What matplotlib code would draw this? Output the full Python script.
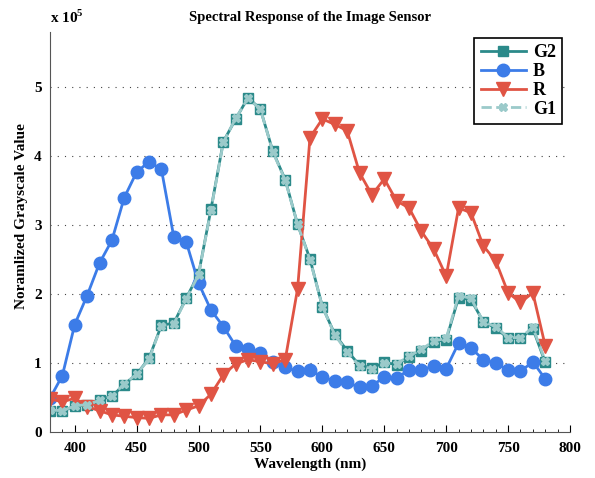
""" spectral response of the image sensor """
import numpy as np
import matplotlib
matplotlib.use("Agg")
import matplotlib.pyplot as plt
from matplotlib.ticker import MultipleLocator

wavelength = list(range(380, 790, 10))

# values in units of 1e5
g2 = [0.31, 0.30, 0.38, 0.39, 0.47, 0.52, 0.69, 0.84, 1.07, 1.55, 1.58, 1.94,
      2.29, 3.23, 4.21, 4.54, 4.85, 4.68, 4.07, 3.66, 3.01, 2.51, 1.82, 1.42,
      1.18, 0.97, 0.93, 1.01, 0.98, 1.09, 1.18, 1.31, 1.34, 1.95, 1.92, 1.60,
      1.51, 1.36, 1.36, 1.50, 1.01]
g1 = [0.32, 0.31, 0.38, 0.40, 0.46, 0.52, 0.70, 0.84, 1.06, 1.54, 1.57, 1.93,
      2.28, 3.22, 4.20, 4.55, 4.84, 4.68, 4.06, 3.65, 3.01, 2.50, 1.82, 1.41,
      1.16, 0.96, 0.92, 1.00, 0.99, 1.10, 1.20, 1.32, 1.36, 1.98, 1.94, 1.60,
      1.53, 1.37, 1.37, 1.52, 1.03]
b = [0.49, 0.82, 1.56, 1.98, 2.45, 2.78, 3.40, 3.77, 3.92, 3.81, 2.83, 2.76,
     2.16, 1.77, 1.53, 1.25, 1.20, 1.15, 1.02, 0.94, 0.88, 0.90, 0.80, 0.74,
     0.72, 0.65, 0.67, 0.80, 0.79, 0.90, 0.90, 0.96, 0.92, 1.29, 1.22, 1.05,
     1.00, 0.90, 0.88, 1.02, 0.77]
r = [0.48, 0.44, 0.49, 0.37, 0.31, 0.25, 0.23, 0.21, 0.20, 0.25, 0.25, 0.32,
     0.38, 0.55, 0.83, 0.99, 1.05, 1.02, 0.99, 1.05, 2.08, 4.27, 4.54, 4.46,
     4.37, 3.76, 3.44, 3.67, 3.35, 3.25, 2.91, 2.65, 2.26, 3.25, 3.18, 2.70,
     2.48, 2.02, 1.88, 2.02, 1.25]

plt.rcParams['font.family'] = ['Liberation Serif', 'DejaVu Serif']
plt.rcParams['mathtext.fontset'] = 'custom'
plt.rcParams['mathtext.rm'] = 'Liberation Serif:bold'

fig = plt.figure(figsize=(5.95, 4.78), dpi=100)
ax = fig.add_axes([0.084, 0.096, 0.874, 0.837])

ax.plot(wavelength, g2, color='#2b8a8a', lw=2, marker='s', ms=7, label='G2')
ax.plot(wavelength, b, color='#3c7ce8', lw=2, marker='o', ms=9, label='B')
ax.plot(wavelength, r, color='#e05444', lw=2, marker='v', ms=10, label='R')
ax.plot(wavelength, g1, color='#9bcaca', lw=2, ls='--', marker='X', ms=6, label='G1')

ax.set_xlim(380, 800)
ax.set_ylim(0, 5.8)
ax.set_yticks([0, 1, 2, 3, 4, 5])
ax.set_xticks(np.arange(400, 801, 50))
ax.xaxis.set_minor_locator(MultipleLocator(10))
ax.tick_params(axis='x', which='major', direction='in', length=5, width=0.8, pad=7)
ax.tick_params(axis='x', which='minor', direction='in', length=2.5, width=0.6)
ax.tick_params(axis='y', length=0, pad=6)
ax.tick_params(labelsize=11)
for lbl in ax.get_xticklabels() + ax.get_yticklabels():
    lbl.set_fontweight('bold')

ax.spines['top'].set_visible(False)
ax.spines['right'].set_visible(False)
ax.spines['left'].set_color('#555555')
ax.spines['bottom'].set_color('#555555')

for yv in [1, 2, 3, 4, 5]:
    ax.axhline(yv, color='#444444', lw=0.8, ls=(0, (1, 5.5)), zorder=0)

ax.set_xlabel('Wavelength (nm)', fontsize=11, fontweight='bold', labelpad=2)
ax.set_ylabel('Noramlized Grayscale Value', fontsize=11, fontweight='bold')
ax.yaxis.set_label_coords(-0.042, 0.54)
ax.set_title('Spectral Response of the Image Sensor', fontsize=10.5,
             fontweight='bold', pad=8)
fig.text(0.084, 0.952, r'x 10$^{5}$', fontsize=11, fontweight='bold', ha='left')

leg = ax.legend(loc='upper right', bbox_to_anchor=(0.985, 0.985), fancybox=False,
                edgecolor='black', framealpha=1, handlelength=2.5,
                prop={'weight': 'bold', 'size': 13}, borderpad=0.35,
                labelspacing=0.1, handletextpad=0.4, borderaxespad=0)
leg.get_frame().set_linewidth(1.2)

fig.savefig('out.png', dpi=100)
